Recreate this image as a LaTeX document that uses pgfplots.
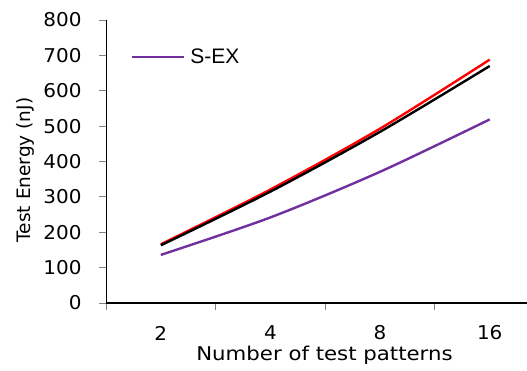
\documentclass[border=0pt]{standalone}
\usepackage{pgfplots}
\pgfplotsset{compat=1.18}
\usepackage{fontspec}
\setmainfont{DejaVu Sans}
\newfontfamily\tickfont[FakeStretch=1.05]{DejaVu Sans}
\newfontfamily\xlabfont[FakeStretch=1.12]{DejaVu Sans}
\newfontfamily\legendfont{Liberation Sans}
\definecolor{sexpurple}{HTML}{7030A0}

\begin{document}
\begin{tikzpicture}
\begin{axis}[
  anchor=south west, at={(0pt,0pt)},
  scale only axis,
  width=421pt, height=283pt,
  xmin=0.5, xmax=4.34,
  ymin=0, ymax=800,
  axis x line*=bottom,
  axis y line*=left,
  x axis line style={line width=1.6pt},
  y axis line style={line width=0.9pt},
  xtick={1,2,3,4},
  xticklabels={2,4,8,16},
  major x tick style={draw=none},
  minor xtick={0.5,1.5,2.5,3.5},
  minor x tick style={line width=0.9pt},
  minor tick length=7pt,
  ytick={0,100,...,800},
  y tick style={line width=0.9pt},
  major tick length=7pt,
  tick align=outside,
  tick label style={font=\tickfont\fontsize{19}{22}\selectfont},
  /pgf/number format/assume math mode=true,
  xticklabel style={anchor=center, yshift=-23pt},
  yticklabel style={anchor=east, xshift=-14pt},
  xlabel={Number of test patterns},
  ylabel={Test Energy (nJ)},
  xlabel style={font=\xlabfont\fontsize{19}{22}\selectfont,
    at={(axis description cs:0.519,-0.184)}, anchor=center},
  ylabel style={font=\fontsize{18.5}{22}\selectfont,
    at={(axis description cs:-0.192,0.47)}, anchor=center},
  legend style={draw=none, fill=none, at={(axis description cs:0.052,0.87)}, anchor=west,
    font=\legendfont\fontsize{21}{24}\selectfont,
    nodes={inner xsep=5pt}},
  legend image code/.code={\draw[#1, line width=2.4pt] (0pt,0pt) -- (52pt,0pt);},
  every axis plot/.append style={line width=2.4pt},
]
\addplot[red, smooth, forget plot] coordinates {(1,166) (2,321) (3,493) (4,688)};
\addplot[black, smooth, forget plot] coordinates {(1,163) (2,315) (3,484) (4,670)};
\addplot[sexpurple, smooth] coordinates {(1,136) (2,242) (3,371) (4,519)};
\addlegendentry{S-EX}
\end{axis}
\pgfresetboundingbox
\useasboundingbox (-106pt,-67pt) rectangle (421pt,303pt);
\end{tikzpicture}
\end{document}
